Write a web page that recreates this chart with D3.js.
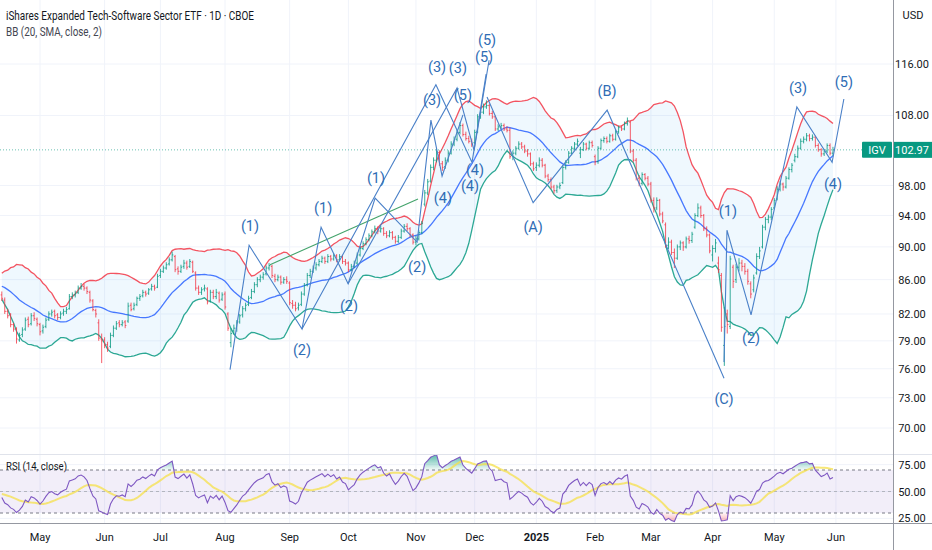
<!DOCTYPE html>
<html>
<head>
<meta charset="utf-8">
<script src="https://cdn.jsdelivr.net/npm/d3@7"></script>
<style>
  html, body { margin: 0; padding: 0; background: #ffffff; }
  svg { display: block; font-family: Roboto, "Noto Sans", sans-serif; }
</style>
</head>
<body>
<div id="chart"></div>
<script>
// closes before the first visible bar (only used to warm up BB and RSI)
var priorCloses = [85.5, 86.4, 85.6, 86.6, 85.4, 86.2, 85.3, 86.5, 87.0, 85.9, 86.7, 85.8,
  86.9, 85.9, 86.8, 85.6, 86.5, 85.7, 86.6, 85.5, 86.2, 85.0, 85.9, 84.9, 85.8, 84.6,
  85.5, 84.5, 85.4, 84.3, 85.2, 84.2, 84.9, 84.3];

// daily bars [open, high, low, close], first row = bar index -13 (index 0 = 1 May 2024)
var bars = [
  // -13
  [84.2,84.6,83.5,83.8],[83.6,83.9,82.0,82.3],[82.3,82.6,81.5,81.8],[81.9,82.1,80.5,80.8],[80.8,81.0,80.0,80.3],
  [80.3,80.5,78.7,79.2],[79.1,79.9,78.9,79.6],[79.7,80.5,79.4,80.2],[80.3,81.6,80.1,81.3],[81.4,81.7,80.5,80.8],
  // -3
  [80.9,82.1,80.7,81.8],[81.8,82.2,81.2,81.5],[81.4,81.6,80.6,80.9],[80.8,81.0,79.6,80.0],[80.1,80.8,79.8,80.5],
  [80.6,81.6,80.4,81.3],[81.4,82.3,81.2,82.0],[82.0,82.5,81.7,82.2],[82.3,82.5,81.5,81.8],[81.9,82.1,81.3,81.6],
  // 7
  [81.6,82.3,81.4,82.0],[82.1,82.6,81.8,82.3],[82.3,82.8,82.0,82.5],[82.6,84.3,82.5,84.0],[84.0,84.5,83.7,84.2],
  [84.2,84.7,83.9,84.4],[84.5,85.3,84.3,85.0],[85.0,85.6,84.8,85.2],[85.2,85.5,84.7,85.0],[85.0,85.2,84.3,84.6],
  // 17
  [84.5,84.7,83.3,83.6],[83.5,83.7,82.3,82.5],[82.4,82.6,81.6,82.0],[81.0,81.4,79.0,79.3],[79.2,79.8,76.6,79.0],
  [79.1,79.4,78.2,78.5],[78.6,78.9,77.8,78.2],[78.4,79.9,78.2,79.6],[79.6,80.7,79.4,80.4],[80.4,81.2,80.2,80.9],
  // 27
  [81.0,81.3,80.5,80.8],[80.8,81.3,80.6,81.0],[81.1,81.3,80.4,80.7],[81.2,83.3,81.0,82.9],[83.0,83.3,82.3,82.5],
  [82.6,83.3,82.4,83.0],[83.1,84.0,82.9,83.8],[83.8,84.3,83.5,84.0],[84.1,84.8,83.9,84.5],[84.5,84.7,84.0,84.3],
  // 37
  [84.4,85.0,84.2,84.8],[84.9,85.5,84.7,85.2],[85.2,85.4,84.7,85.0],[85.1,86.7,85.0,86.4],[86.5,87.3,86.2,87.0],
  [87.0,87.7,86.8,87.4],[87.4,88.1,87.2,87.8],[87.9,88.7,87.7,88.4],[88.4,89.4,88.2,89.0],[88.8,89.0,86.9,87.2],
  // 47
  [87.3,87.6,86.6,87.0],[87.0,87.8,86.8,87.5],[87.6,88.4,87.3,88.0],[88.0,88.3,87.2,87.5],[87.6,88.5,87.4,88.2],
  [88.1,88.3,86.8,87.0],[86.8,87.0,84.7,85.0],[85.0,85.3,84.2,84.5],[84.5,85.1,84.2,84.8],[84.9,85.4,84.6,85.0],
  // 57
  [84.9,85.1,83.1,83.4],[83.5,84.8,83.3,84.5],[84.5,84.8,83.7,84.0],[84.0,84.9,83.7,84.5],[84.4,84.6,83.3,83.6],
  [83.7,84.5,83.5,84.2],[84.3,84.6,82.5,82.8],[82.0,82.2,80.1,80.4],[78.8,80.4,78.3,79.8],[80.1,80.8,79.7,80.4],
  // 67
  [80.4,81.3,80.0,81.0],[81.1,82.0,80.9,81.8],[81.9,82.9,81.6,82.6],[82.6,83.3,82.3,83.0],[83.1,84.1,82.9,83.8],
  [83.9,84.9,83.7,84.6],[84.6,85.7,84.4,85.4],[85.4,86.3,85.1,86.0],[86.0,86.6,85.7,86.3],[86.3,86.9,86.0,86.6],
  // 77
  [86.7,87.7,86.5,87.4],[87.4,88.0,87.1,87.7],[87.6,87.8,86.2,86.5],[86.4,86.7,85.7,86.0],[86.0,86.6,85.8,86.3],
  [86.3,86.5,85.4,85.7],[85.7,86.3,85.5,86.0],[86.0,86.4,85.5,85.8],[85.6,85.8,83.0,83.3],[83.2,83.6,82.6,83.0],
  // 87
  [83.0,83.4,82.3,82.6],[82.7,83.3,82.4,83.0],[83.1,84.6,82.9,84.3],[84.3,85.6,84.1,85.3],[85.4,86.8,85.2,86.5],
  [86.5,87.3,86.2,87.0],[87.0,87.7,86.8,87.4],[87.4,88.1,87.1,87.8],[87.8,88.5,87.6,88.2],[88.2,88.9,88.0,88.6],
  // 97
  [88.6,88.8,87.9,88.2],[88.2,89.1,88.0,88.8],[88.8,89.0,88.2,88.5],[88.5,89.2,88.3,88.9],[88.9,89.1,88.1,88.4],
  [88.4,89.1,88.2,88.8],[88.8,89.0,87.9,88.2],[88.2,88.5,87.7,88.0],[88.0,88.2,86.9,87.2],[87.2,87.9,87.0,87.6],
  // 107
  [87.6,88.3,87.4,88.0],[88.0,89.3,87.8,89.0],[89.0,90.1,88.8,89.8],[89.8,90.7,89.6,90.4],[90.4,91.2,90.2,90.9],
  [90.9,91.7,90.7,91.4],[91.4,92.2,91.2,91.9],[91.9,92.7,91.7,92.3],[92.3,92.6,91.6,92.0],[92.0,92.7,91.8,92.3],
  // 117
  [92.3,92.5,91.4,91.7],[91.7,92.0,91.1,91.4],[91.4,92.1,91.2,91.8],[91.8,92.0,90.9,91.2],[91.2,91.4,90.4,90.7],
  [90.7,91.5,90.5,91.2],[91.2,92.3,91.0,92.0],[92.0,92.9,91.8,92.6],[92.6,93.0,92.0,92.3],[92.3,92.5,91.2,91.5],
  // 127
  [91.5,91.7,90.3,90.6],[90.6,91.4,90.2,91.0],[91.0,92.1,90.8,91.8],[91.8,93.3,91.6,93.0],[95.5,97.4,95.2,97.0],
  [97.0,98.9,96.7,98.5],[98.6,100.9,98.4,100.5],[100.5,101.9,100.1,101.5],[101.5,103.2,101.2,102.7],[102.6,102.9,100.7,101.0],
  // 137
  [101.0,101.4,100.0,100.5],[100.6,101.9,100.3,101.5],[101.5,102.9,101.2,102.5],[102.5,104.2,102.3,103.8],[103.8,104.9,103.5,104.5],
  [104.5,105.9,104.2,105.5],[105.5,107.0,105.2,106.5],[106.5,106.8,104.9,105.2],[105.2,105.6,104.3,104.6],[104.6,105.0,103.9,104.2],
  // 147
  [104.2,104.6,103.4,103.8],[104.0,105.9,103.8,105.5],[105.6,108.2,105.4,107.8],[107.8,108.9,107.5,108.5],[108.5,109.8,108.2,109.3],
  [109.3,110.3,109.0,109.5],[109.5,109.8,108.0,108.3],[108.3,108.7,107.5,107.8],[107.8,108.0,105.7,106.0],[106.0,106.7,105.7,106.3],
  // 157
  [106.3,106.9,106.0,106.5],[106.5,106.8,105.7,106.0],[106.0,106.4,105.5,105.8],[105.8,106.2,101.7,102.0],[102.2,102.9,101.5,102.5],
  [102.5,103.5,102.2,103.2],[103.2,104.2,103.0,103.8],[103.8,104.1,103.1,103.4],[103.4,103.7,102.5,102.8],[102.8,103.1,102.0,102.4],
  // 167
  [102.4,102.6,100.7,101.0],[101.0,101.3,100.0,100.3],[100.5,101.2,100.0,100.8],[100.8,101.9,100.5,101.5],[101.5,101.8,100.5,100.8],
  [100.8,101.0,99.0,99.3],[99.3,99.6,98.5,98.8],[98.8,99.1,97.5,97.8],[97.8,98.1,96.9,97.3],[97.3,98.1,97.0,97.8],
  // 177
  [97.8,98.4,97.5,98.0],[98.4,100.8,98.2,100.5],[100.5,101.5,100.2,101.2],[101.2,102.8,101.0,102.5],[102.5,103.5,102.2,103.2],
  [103.2,104.1,102.9,103.8],[103.8,104.6,103.5,104.2],[102.5,103.4,101.8,103.0],[103.0,104.1,102.8,103.8],[103.8,104.0,102.9,103.2],
  // 187
  [103.2,104.3,103.0,104.0],[104.0,104.3,103.3,103.6],[102.0,102.3,100.8,101.3],[101.3,103.5,101.0,103.2],[103.2,104.6,103.0,104.3],
  [104.3,104.9,104.0,104.6],[104.6,104.9,103.9,104.2],[104.2,105.3,104.0,105.0],[105.0,105.3,104.2,104.5],[104.5,105.9,104.3,105.6],
  // 197
  [105.6,106.5,105.3,106.2],[106.2,106.5,105.7,106.0],[106.0,107.1,105.8,106.8],[106.8,107.7,106.5,107.2],[107.0,107.2,102.5,102.8],
  [102.8,103.1,101.2,101.5],[101.5,101.8,98.7,99.0],[99.0,99.4,97.9,98.3],[98.3,99.8,98.0,99.5],[99.5,99.7,98.7,99.0],
  // 207
  [99.0,99.3,97.9,98.2],[98.2,98.5,95.7,96.0],[96.0,96.4,94.4,95.0],[95.0,96.4,94.7,96.0],[96.0,96.2,93.9,94.2],
  [94.2,94.5,93.0,93.3],[92.8,93.1,89.9,90.2],[90.2,91.2,89.7,90.6],[90.6,90.9,89.0,89.3],[89.3,89.8,87.4,88.6],
  // 217
  [88.6,90.3,88.4,90.0],[90.0,90.8,89.6,90.5],[90.5,90.7,89.5,90.0],[90.0,91.3,89.8,91.0],[91.0,91.4,90.4,90.8],
  [90.8,91.9,90.5,91.6],[92.5,94.3,92.3,94.0],[94.0,95.6,93.8,95.0],[95.0,95.3,93.7,94.0],[94.0,94.2,92.0,92.3],
  // 227
  [92.3,92.6,91.2,91.5],[91.5,91.7,89.2,89.5],[89.0,90.2,88.2,89.8],[89.8,91.0,89.3,90.5],[88.0,88.8,86.8,87.2],
  [86.5,86.8,80.0,80.5],[78.5,82.8,76.3,80.6],[82.0,82.5,79.8,80.8],[80.6,88.9,80.3,88.5],[87.5,87.8,85.0,85.8],
  // 237
  [86.0,87.9,85.6,87.5],[87.5,88.6,87.0,88.0],[88.0,88.4,87.0,87.6],[87.6,88.0,86.6,87.0],[87.0,87.3,85.4,85.8],
  [85.5,85.8,83.8,84.3],[84.8,86.6,84.5,86.2],[86.8,89.2,86.6,88.8],[88.8,90.0,88.5,89.5],[90.0,92.8,89.8,92.5],
  // 247
  [92.5,93.8,92.1,93.5],[93.5,94.1,93.0,93.8],[93.8,95.1,93.4,94.8],[95.0,96.3,94.8,96.0],[96.2,97.9,96.0,97.5],
  [97.5,98.6,97.2,98.2],[98.2,98.4,97.3,97.8],[97.8,99.3,97.6,99.0],[99.0,100.5,98.8,100.2],[100.2,101.1,99.8,100.8],
  // 257
  [101.5,102.4,101.2,102.0],[102.0,103.6,101.8,103.2],[103.2,104.6,103.0,104.2],[104.2,104.9,103.9,104.5],[104.5,105.4,104.2,105.0],
  [105.0,105.3,104.2,104.6],[104.6,105.2,104.3,104.8],[104.8,105.0,103.3,103.6],[103.6,103.9,102.7,103.0],[103.0,103.2,102.0,102.4],
  // 267
  [102.4,103.1,102.1,102.8],[102.8,103.9,102.5,103.6],[103.6,103.9,102.2,102.5],[102.5,103.4,102.1,102.97]
];
var firstIndex = -13;

// month labels and the bar index of each month's first session
var monthLabels = ["May", "Jun", "Jul", "Aug", "Sep", "Oct", "Nov", "Dec", "2025", "Feb", "Mar", "Apr", "May", "Jun"];
var monthStarts = [0, 22, 41, 63, 85, 105, 128, 148, 169, 189, 208, 229, 250, 271];

var priceTicks = [116, 108, 98, 94, 90, 86, 82, 79, 76, 73, 70];
var rsiTicks = [75, 50, 25];

// Elliott wave drawings as [bar index, price]
var waveSmall = [[64.7, 75.9], [71.2, 90.2], [89.2, 80.3], [95.7, 92.5], [104.9, 85.5], [114.1, 96.3],
  [128.4, 90.6], [133.1, 107.3], [136.9, 99.3], [144.0, 108.1]];
var waveLongA = [[89.2, 80.3], [134.8, 112.7], [147.1, 101.2], [151.9, 114.4]];
var waveLongB = [[104.9, 85.5], [142.0, 112.2], [147.8, 102.9], [152.9, 116.6]];
var waveABC = [[152.2, 110.8], [167.9, 95.7], [193.1, 108.8], [232.9, 75.0]];
var waveFinal = [[232.9, 76.7], [233.9, 92.1], [242.1, 81.9], [257.7, 109.3], [269.7, 101.2], [273.7, 110.5]];
var trendLine = [[78.3, 87.8], [128.7, 96.2]];

var waveLabels = [
  ["(1)", 71.5, 92.6], ["(2)", 89.2, 77.9], ["(1)", 96.4, 94.9], ["(2)", 105.2, 82.9],
  ["(1)", 114.4, 98.9], ["(2)", 128.4, 87.5], ["(3)", 135.2, 115.5], ["(3)", 142.3, 115.2],
  ["(3)", 133.5, 110.2], ["(5)", 144.0, 111.1], ["(5)", 152.2, 119.9], ["(5)", 151.2, 117.0],
  ["(4)", 137.2, 96.3], ["(4)", 148.1, 100.1], ["(4)", 146.4, 97.8], ["(A)", 167.9, 92.5],
  ["(B)", 193.1, 111.7], ["(C)", 232.9, 72.8], ["(1)", 234.2, 94.5], ["(2)", 242.1, 79.3],
  ["(3)", 258.1, 112.2], ["(4)", 270.0, 98.2], ["(5)", 273.7, 113.1]
];

// Define SVG area dimensions
var svgWidth = 932;
var svgHeight = 550;
var plotRight = 893;
var mainBottom = 454;
var rsiTop = 455;
var rsiBottom = 523;

var svg = d3.select("#chart").append("svg")
  .attr("width", svgWidth)
  .attr("height", svgHeight);

var defs = svg.append("defs");
defs.append("clipPath").attr("id", "clipMain")
  .append("rect").attr("x", 0).attr("y", 0).attr("width", plotRight).attr("height", mainBottom);
defs.append("clipPath").attr("id", "clipRsi")
  .append("rect").attr("x", 0).attr("y", rsiTop).attr("width", plotRight).attr("height", rsiBottom - rsiTop);

// scales
var xScale = d3.scaleLinear().domain([-13.62, 290.43]).range([0, plotRight]);
var yScale = d3.scaleLog().domain([70, 116]).range([428, 64]);
var rsiScale = d3.scaleLinear().domain([30, 70]).range([513, 470]);

// indicators from the closes
var closes = priorCloses.concat(bars.map(function (b) { return b[3]; }));
var offset = priorCloses.length;

var bb = [];
bars.forEach(function (b, j) {
  var k = offset + j;
  var win = closes.slice(k - 19, k + 1);
  var mean = d3.mean(win);
  var sd = Math.sqrt(d3.mean(win, function (v) { return (v - mean) * (v - mean); }));
  bb.push({ i: firstIndex + j, mid: mean, upper: mean + 2 * sd, lower: mean - 2 * sd });
});

var rsiAll = closes.map(function () { return null; });
var avgGain = 0, avgLoss = 0;
for (var k = 1; k < closes.length; k++) {
  var ch = closes[k] - closes[k - 1];
  var g = Math.max(ch, 0), l = Math.max(-ch, 0);
  if (k <= 14) {
    avgGain += g / 14;
    avgLoss += l / 14;
  } else {
    avgGain = (avgGain * 13 + g) / 14;
    avgLoss = (avgLoss * 13 + l) / 14;
  }
  if (k >= 14) rsiAll[k] = avgLoss === 0 ? 100 : 100 - 100 / (1 + avgGain / avgLoss);
}
var rsi = bars.map(function (b, j) {
  var k = offset + j;
  var win = rsiAll.slice(k - 13, k + 1);
  return { i: firstIndex + j, v: rsiAll[k], ma: d3.mean(win) };
});

// grid
var grid = svg.append("g");
grid.selectAll("line.h").data(priceTicks).enter().append("line")
  .attr("x1", 0).attr("x2", plotRight)
  .attr("y1", function (d) { return yScale(d); }).attr("y2", function (d) { return yScale(d); })
  .attr("stroke", "#f0f3fa").attr("stroke-width", 1);
grid.selectAll("line.r").data(rsiTicks).enter().append("line")
  .attr("x1", 0).attr("x2", plotRight)
  .attr("y1", function (d) { return rsiScale(d); }).attr("y2", function (d) { return rsiScale(d); })
  .attr("stroke", "#f0f3fa").attr("stroke-width", 1);
grid.selectAll("line.v").data(monthStarts).enter().append("line")
  .attr("x1", function (d) { return xScale(d); }).attr("x2", function (d) { return xScale(d); })
  .attr("y1", 0).attr("y2", rsiBottom)
  .attr("stroke", "#f0f3fa").attr("stroke-width", 1);

// main pane
var main = svg.append("g").attr("clip-path", "url(#clipMain)");

main.append("path").datum(bb)
  .attr("d", d3.area()
    .x(function (d) { return xScale(d.i); })
    .y0(function (d) { return yScale(d.lower); })
    .y1(function (d) { return yScale(d.upper); }))
  .attr("fill", "rgba(33,150,243,0.07)");

var bandLines = [["upper", "#f23645"], ["mid", "#2962ff"], ["lower", "#089981"]];
bandLines.forEach(function (bl) {
  main.append("path").datum(bb)
    .attr("d", d3.line()
      .x(function (d) { return xScale(d.i); })
      .y(function (d) { return yScale(d[bl[0]]); }))
    .attr("fill", "none")
    .attr("stroke", bl[1])
    .attr("stroke-width", 1.3)
    .attr("opacity", 0.85);
});

// OHLC bars
main.selectAll("path.bar").data(bars).enter().append("path")
  .attr("d", function (b, j) {
    var x = xScale(firstIndex + j);
    return "M" + x + "," + yScale(b[1]) + "V" + yScale(b[2]) +
      "M" + (x - 1.2) + "," + yScale(b[0]) + "H" + x +
      "M" + x + "," + yScale(b[3]) + "H" + (x + 1.2);
  })
  .attr("fill", "none")
  .attr("stroke", function (b) { return b[3] >= b[0] ? "#089981" : "#f23645"; })
  .attr("stroke-width", 1)
  .attr("opacity", 0.8);

// last price line
var lastClose = bars[bars.length - 1][3];
main.append("line")
  .attr("x1", 0).attr("x2", plotRight)
  .attr("y1", yScale(lastClose)).attr("y2", yScale(lastClose))
  .attr("stroke", "#089981").attr("stroke-opacity", 0.6)
  .attr("stroke-dasharray", "1,2");

// wave drawings
var waveLine = d3.line()
  .x(function (d) { return xScale(d[0]); })
  .y(function (d) { return yScale(d[1]); });

main.append("path").datum(trendLine)
  .attr("d", waveLine).attr("fill", "none")
  .attr("stroke", "#43a36b").attr("stroke-width", 1.1);

[waveSmall, waveLongA, waveLongB, waveABC, waveFinal].forEach(function (w) {
  main.append("path").datum(w)
    .attr("d", waveLine).attr("fill", "none")
    .attr("stroke", "#4a80c8").attr("stroke-width", 1.1);
});

main.selectAll("text.wave").data(waveLabels).enter().append("text")
  .attr("x", function (d) { return xScale(d[1]); })
  .attr("y", function (d) { return yScale(d[2]); })
  .attr("text-anchor", "middle")
  .attr("dominant-baseline", "central")
  .attr("font-size", "14.5px")
  .attr("fill", "#2f6db5")
  .text(function (d) { return d[0]; });

// legend
svg.append("text").attr("x", 6).attr("y", 20)
  .attr("font-size", "12.5px").attr("fill", "#131722")
  .attr("textLength", 248).attr("lengthAdjust", "spacingAndGlyphs")
  .text("iShares Expanded Tech-Software Sector ETF · 1D · CBOE");
svg.append("text").attr("x", 6).attr("y", 36)
  .attr("font-size", "12px").attr("fill", "#434651")
  .attr("textLength", 96).attr("lengthAdjust", "spacingAndGlyphs")
  .text("BB (20, SMA, close, 2)");

// RSI pane
var rsiPane = svg.append("g").attr("clip-path", "url(#clipRsi)");

rsiPane.append("rect")
  .attr("x", 0).attr("width", plotRight)
  .attr("y", rsiScale(70)).attr("height", rsiScale(30) - rsiScale(70))
  .attr("fill", "rgba(126,87,194,0.1)");

[[70, "#787b86"], [50, "#b2b5be"], [30, "#787b86"]].forEach(function (lv) {
  rsiPane.append("line")
    .attr("x1", 0).attr("x2", plotRight)
    .attr("y1", rsiScale(lv[0])).attr("y2", rsiScale(lv[0]))
    .attr("stroke", lv[1]).attr("stroke-dasharray", "3,3");
});

var obGrad = defs.append("linearGradient").attr("id", "obGrad")
  .attr("gradientUnits", "userSpaceOnUse")
  .attr("x1", 0).attr("x2", 0).attr("y1", rsiScale(85)).attr("y2", rsiScale(70));
obGrad.append("stop").attr("offset", "0").attr("stop-color", "#089981").attr("stop-opacity", 0.7);
obGrad.append("stop").attr("offset", "1").attr("stop-color", "#089981").attr("stop-opacity", 0.05);
var osGrad = defs.append("linearGradient").attr("id", "osGrad")
  .attr("gradientUnits", "userSpaceOnUse")
  .attr("x1", 0).attr("x2", 0).attr("y1", rsiScale(30)).attr("y2", rsiScale(15));
osGrad.append("stop").attr("offset", "0").attr("stop-color", "#f23645").attr("stop-opacity", 0.05);
osGrad.append("stop").attr("offset", "1").attr("stop-color", "#f23645").attr("stop-opacity", 0.7);

rsiPane.append("path").datum(rsi)
  .attr("d", d3.area()
    .x(function (d) { return xScale(d.i); })
    .y0(rsiScale(70))
    .y1(function (d) { return rsiScale(Math.max(d.v, 70)); }))
  .attr("fill", "url(#obGrad)");
rsiPane.append("path").datum(rsi)
  .attr("d", d3.area()
    .x(function (d) { return xScale(d.i); })
    .y0(rsiScale(30))
    .y1(function (d) { return rsiScale(Math.min(d.v, 30)); }))
  .attr("fill", "url(#osGrad)");

rsiPane.append("path").datum(rsi)
  .attr("d", d3.line()
    .x(function (d) { return xScale(d.i); })
    .y(function (d) { return rsiScale(d.ma); }))
  .attr("fill", "none").attr("stroke", "#f5e04a").attr("stroke-opacity", 0.75).attr("stroke-width", 2);

rsiPane.append("path").datum(rsi)
  .attr("d", d3.line()
    .x(function (d) { return xScale(d.i); })
    .y(function (d) { return rsiScale(d.v); }))
  .attr("fill", "none").attr("stroke", "#7e57c2").attr("stroke-width", 1.1);

svg.append("text").attr("x", 6).attr("y", 470)
  .attr("font-size", "11.5px").attr("fill", "#131722")
  .attr("textLength", 61).attr("lengthAdjust", "spacingAndGlyphs")
  .text("RSI (14, close)");

// pane borders
svg.append("line").attr("x1", 0).attr("x2", svgWidth).attr("y1", mainBottom + 0.5).attr("y2", mainBottom + 0.5)
  .attr("stroke", "#e0e3eb");
svg.append("line").attr("x1", 0).attr("x2", svgWidth).attr("y1", rsiBottom + 0.5).attr("y2", rsiBottom + 0.5)
  .attr("stroke", "#9598a1");
svg.append("line").attr("x1", plotRight + 0.5).attr("x2", plotRight + 0.5).attr("y1", 0).attr("y2", svgHeight)
  .attr("stroke", "#9598a1");

// price axis
svg.append("text").attr("x", 913).attr("y", 19)
  .attr("text-anchor", "middle").attr("font-size", "11px").attr("fill", "#131722")
  .text("USD");
svg.selectAll("text.pt").data(priceTicks).enter().append("text")
  .attr("x", 912).attr("y", function (d) { return yScale(d) + 4; })
  .attr("text-anchor", "middle").attr("font-size", "11px").attr("fill", "#131722")
  .text(function (d) { return d.toFixed(2); });
svg.selectAll("text.rt").data(rsiTicks).enter().append("text")
  .attr("x", 912).attr("y", function (d) { return rsiScale(d) + 4; })
  .attr("text-anchor", "middle").attr("font-size", "11px").attr("fill", "#131722")
  .text(function (d) { return d.toFixed(2); });

// last price labels
var yLast = yScale(lastClose);
svg.append("rect").attr("x", 862).attr("y", yLast - 8).attr("width", 30).attr("height", 16)
  .attr("fill", "#089981").attr("rx", 1);
svg.append("text").attr("x", 877).attr("y", yLast + 4)
  .attr("text-anchor", "middle").attr("font-size", "11px").attr("fill", "#ffffff")
  .text("IGV");
svg.append("rect").attr("x", plotRight + 1).attr("y", yLast - 8).attr("width", svgWidth - plotRight - 1).attr("height", 16)
  .attr("fill", "#089981");
svg.append("text").attr("x", 912).attr("y", yLast + 4)
  .attr("text-anchor", "middle").attr("font-size", "11px").attr("fill", "#ffffff")
  .text(lastClose.toFixed(2));

// time axis
svg.selectAll("text.month").data(monthLabels).enter().append("text")
  .attr("x", function (d, k) { return xScale(monthStarts[k]); })
  .attr("y", 541)
  .attr("text-anchor", "middle").attr("font-size", "11px").attr("fill", "#131722")
  .attr("font-weight", function (d) { return d === "2025" ? "bold" : "normal"; })
  .text(function (d) { return d; });
</script>
</body>
</html>
